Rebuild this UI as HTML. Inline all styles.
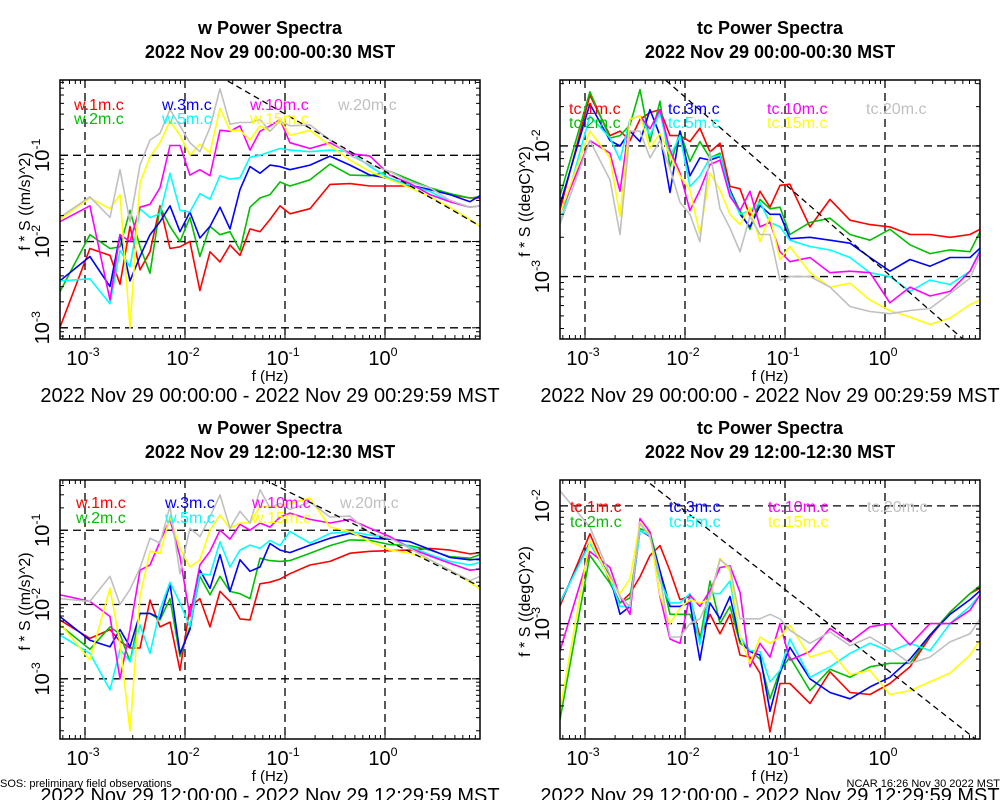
<!DOCTYPE html>
<html><head><meta charset="utf-8">
<style>
html,body{margin:0;padding:0;background:#fff;}
svg{display:block;font-family:"Liberation Sans",Arial,sans-serif;}
</style></head>
<body>
<svg id="chart" width="1000" height="800" viewBox="0 0 1000 800" xmlns="http://www.w3.org/2000/svg"></svg>
<script>
// ---- shared frequency categories (Hz) ----
const freqs = [5.6e-4,1.12e-3,1.78e-3,2.24e-3,2.82e-3,3.55e-3,4.47e-3,5.62e-3,7.08e-3,8.91e-3,1.12e-2,1.41e-2,1.78e-2,2.24e-2,2.82e-2,3.55e-2,4.47e-2,5.62e-2,7.08e-2,8.91e-2,0.112,0.178,0.282,0.447,0.708,1.12,1.78,2.82,4.47,7.08,8.91];
const xTickLabels = ["-3","-2","-1","0"];
const xTickValues = [1e-3,1e-2,1e-1,1];

// ---- panel 1: w, 00:00-00:30 ----
const w1a = [1.0e-3,8.3e-3,6.9e-3,3.2e-3,1.5e-2,4.7e-3,7.6e-3,2.6e-2,8.3e-3,8.7e-3,1.0e-2,2.7e-3,7.6e-3,5.8e-3,9.1e-3,6.9e-3,1.4e-2,1.3e-2,1.8e-2,2.6e-2,2.1e-2,2.4e-2,4.6e-2,4.7e-2,4.4e-2,4.4e-2,4.4e-2,4.0e-2,3.5e-2,3.2e-2,3.2e-2];
const w2a = [2.6e-3,1.2e-2,8.3e-3,8.7e-3,2.3e-2,8.7e-3,4.3e-3,2.5e-2,1.5e-2,1.0e-2,1.9e-2,6.7e-3,1.5e-2,1.2e-2,1.3e-2,7.9e-3,2.5e-2,3.2e-2,3.5e-2,4.9e-2,4.4e-2,5.2e-2,7.9e-2,5.9e-2,5.8e-2,6.5e-2,5.2e-2,4.2e-2,3.6e-2,3.2e-2,3.3e-2];
const w3a = [3.5e-3,6.7e-3,3.0e-3,1.2e-2,3.5e-3,6.7e-3,1.2e-2,1.7e-2,2.6e-2,1.3e-2,2.2e-2,1.1e-2,1.5e-2,2.5e-2,1.4e-2,4.0e-2,7.4e-2,6.2e-2,7.7e-2,7.4e-2,6.8e-2,7.7e-2,9.8e-2,7.7e-2,5.9e-2,5.4e-2,4.5e-2,4.0e-2,3.5e-2,2.9e-2,3.4e-2];
const w5a = [3.5e-3,3.7e-3,1.9e-3,7.9e-3,5.1e-3,2.4e-2,1.9e-2,2.1e-2,6.2e-2,2.3e-2,2.2e-2,3.6e-2,3.1e-2,5.8e-2,5.3e-2,5.5e-2,9.5e-2,1.0e-1,1.1e-1,1.2e-1,1.15e-1,1.1e-1,1.15e-1,1.1e-1,7.4e-2,5.4e-2,4.5e-2,3.8e-2,2.9e-2,2.5e-2,2.6e-2];
const w10a = [1.7e-2,2.6e-2,2.1e-3,1.2e-2,1.0e-2,2.5e-2,2.7e-2,4.2e-2,1.3e-1,1.3e-1,5.9e-2,6.8e-2,5.8e-2,1.95e-1,1.9e-1,2.2e-1,1.15e-1,1.9e-1,2.2e-1,2.6e-1,1.4e-1,1.2e-1,1.4e-1,1.05e-1,9.8e-2,5.9e-2,4.7e-2,3.5e-2,2.9e-2,2.5e-2,2.6e-2];
const w15a = [1.8e-2,3.2e-2,2.4e-2,3.5e-2,1.0e-3,4.8e-2,9.6e-2,1.4e-1,2.5e-1,1.7e-1,1.0e-1,1.35e-1,1.07e-1,3.5e-1,1.95e-1,1.95e-1,1.5e-1,2.2e-1,1.9e-1,2.6e-1,1.7e-1,1.95e-1,1.3e-1,8.8e-2,6.5e-2,5.2e-2,4.2e-2,3.3e-2,2.5e-2,1.8e-2,1.5e-2];
const w20a = [1.9e-2,3.3e-2,1.9e-2,6.8e-2,1.7e-2,7.7e-2,1.5e-1,1.8e-1,3.4e-1,2.2e-1,1.4e-1,1.1e-1,2.1e-1,5.9e-1,2.3e-1,2.4e-1,2.4e-1,2.6e-1,1.9e-1,2.5e-1,2.2e-1,2.25e-1,1.5e-1,1.0e-1,7.7e-2,6.5e-2,4.9e-2,4.2e-2,3.0e-2,2.5e-2,2.6e-2];

// ---- panel 2: tc, 00:00-00:30 ----
const t1a = [3.2e-3,2.45e-2,1.2e-2,1.3e-2,1.1e-2,1.6e-2,1.8e-2,1.9e-2,1.2e-2,1.2e-2,1.08e-2,1.37e-2,9.0e-3,1.05e-2,4.9e-3,4.7e-3,2.9e-3,4.5e-3,3.4e-3,5.0e-3,5.1e-3,2.4e-3,3.9e-3,2.7e-3,2.5e-3,2.4e-3,2.1e-3,2.1e-3,2.0e-3,2.1e-3,2.3e-3];
const t2a = [4.1e-3,2.6e-2,1.15e-2,1.2e-2,1.45e-2,2.7e-2,1.08e-2,2.2e-2,6.9e-3,1.3e-2,7.6e-3,1.08e-2,8.1e-3,8.8e-3,4.6e-3,3.2e-3,2.3e-3,3.9e-3,3.3e-3,3.4e-3,2.1e-3,2.6e-3,2.8e-3,2.1e-3,1.9e-3,2.3e-3,1.75e-3,1.5e-3,1.6e-3,1.55e-3,2.2e-3];
const t3a = [3.5e-3,2.1e-2,1.1e-2,1.0e-2,1.3e-2,1.08e-2,1.9e-2,1.2e-2,4.4e-3,1.3e-2,5.9e-3,8.1e-3,7.8e-3,8.3e-3,4.6e-3,3.0e-3,2.4e-3,3.5e-3,3.0e-3,3.0e-3,1.95e-3,2.0e-3,1.9e-3,1.8e-3,1.4e-3,1.1e-3,1.35e-3,1.2e-3,1.4e-3,1.4e-3,1.65e-3];
const t5a = [2.5e-3,1.7e-2,1.15e-2,7.8e-3,1.6e-2,1.7e-2,1.2e-2,1.8e-2,8.3e-3,1.2e-2,4.9e-3,5.9e-3,8.1e-3,8.5e-3,4.4e-3,3.0e-3,3.2e-3,3.7e-3,2.6e-3,2.4e-3,1.9e-3,1.7e-3,1.6e-3,1.4e-3,1.07e-3,1.0e-3,7.7e-4,9.4e-4,8.7e-4,1.1e-3,1.6e-3];
const t10a = [3.0e-3,1.1e-2,8.8e-3,4.5e-3,1.6e-2,1.7e-2,1.35e-2,1.9e-2,9.3e-3,6.2e-3,3.2e-3,4.6e-3,7.2e-3,7.8e-3,4.1e-3,3.2e-3,4.5e-3,2.4e-3,2.6e-3,1.55e-3,1.3e-3,1.4e-3,1.07e-3,1.1e-3,1.07e-3,6.3e-4,8.3e-4,7.1e-4,7.7e-4,1.1e-3,1.55e-3];
const t15a = [3.0e-3,1.3e-2,8.1e-3,2.9e-3,1.6e-2,1.7e-2,9.6e-3,1.25e-2,8.5e-3,5.9e-3,4.6e-3,2.1e-3,6.2e-3,4.6e-3,3.0e-3,2.5e-3,3.4e-3,1.85e-3,2.9e-3,1.35e-3,1.7e-3,1.07e-3,8.3e-4,8.9e-4,6.6e-4,5.5e-4,4.9e-4,4.3e-4,4.8e-4,6.1e-4,6.6e-4];
const t20a = [2.5e-3,1.1e-2,5.5e-3,2.1e-3,1.3e-2,1.3e-2,8.1e-3,1.1e-2,6.7e-3,3.7e-3,3.0e-3,1.85e-3,9.0e-3,3.3e-3,2.35e-3,1.55e-3,2.9e-3,2.1e-3,2.1e-3,9.4e-4,1.0e-3,1.0e-3,8.3e-4,5.9e-4,5.4e-4,5.2e-4,5.5e-4,5.7e-4,7.4e-4,9.7e-4,1.45e-3];

// ---- panel 3: w, 12:00-12:30 ----
const w1b = [6.2e-3,3.5e-3,4.6e-3,3.2e-3,2.6e-3,2.6e-3,1.15e-2,5.0e-3,5.8e-3,1.3e-3,9.3e-3,1.2e-2,5.0e-3,1.5e-2,1.1e-2,6.4e-3,6.2e-3,1.9e-2,2.0e-2,2.2e-2,2.6e-2,3.4e-2,3.8e-2,4.9e-2,5.2e-2,5.3e-2,5.4e-2,5.7e-2,5.4e-2,4.8e-2,5.0e-2];
const w2b = [5.3e-3,2.5e-3,5.0e-3,4.0e-3,1.7e-3,7.6e-3,7.6e-3,6.2e-3,1.2e-2,2.0e-3,5.0e-3,2.4e-2,1.35e-2,2.4e-2,1.5e-2,1.4e-2,1.2e-2,4.2e-2,3.9e-2,3.8e-2,3.9e-2,4.9e-2,6.2e-2,7.4e-2,7.3e-2,6.4e-2,6.2e-2,5.4e-2,4.4e-2,4.2e-2,4.7e-2];
const w3b = [6.9e-3,3.3e-3,2.7e-3,4.6e-3,2.7e-3,7.6e-3,7.6e-3,6.5e-3,1.9e-2,2.2e-3,4.6e-3,2.9e-2,1.65e-2,4.7e-2,1.5e-2,4.0e-2,2.8e-2,3.2e-2,6.6e-2,5.4e-2,5.0e-2,6.3e-2,7.8e-2,9.1e-2,7.8e-2,7.6e-2,7.0e-2,5.5e-2,4.3e-2,4.0e-2,4.1e-2];
const w5b = [3.9e-3,2.2e-3,7.1e-4,2.5e-3,1.7e-3,5.3e-3,2.2e-3,8.5e-3,2.0e-2,1.05e-2,5.0e-3,2.6e-2,2.5e-2,7.0e-2,3.2e-2,5.4e-2,6.3e-2,5.7e-2,7.3e-2,6.2e-2,9.6e-2,6.7e-2,9.1e-2,9.6e-2,8.6e-2,7.8e-2,6.0e-2,4.7e-2,3.8e-2,3.4e-2,3.7e-2];
const w10b = [1.35e-2,1.1e-2,6.9e-3,1.0e-3,4.6e-3,2.9e-2,3.4e-2,7.0e-2,1.4e-1,4.4e-2,6.9e-3,3.4e-2,5.2e-2,1.0e-1,7.6e-2,1.2e-1,1.0e-1,1.25e-1,1.1e-1,1.5e-1,1.7e-1,1.4e-1,1.25e-1,1.4e-1,1.06e-1,8.2e-2,5.7e-2,4.5e-2,3.6e-2,2.9e-2,3.0e-2];
const w15b = [5.6e-3,1.8e-3,1.65e-2,3.0e-3,2.0e-4,1.3e-2,5.2e-2,4.9e-2,1.5e-1,5.7e-2,3.2e-2,4.0e-2,1.0e-1,1.6e-1,1.06e-1,1.25e-1,1.25e-1,2.1e-1,2.1e-1,2.1e-1,2.3e-1,2.7e-1,1.1e-1,9.6e-2,7.0e-2,5.4e-2,4.9e-2,4.0e-2,2.9e-2,2.0e-2,1.6e-2];
const w20b = [1.2e-2,1.1e-2,2.4e-2,1.0e-2,1.6e-2,3.1e-2,7.8e-2,6.7e-2,2.1e-1,2.6e-2,1.06e-1,8.2e-2,1.5e-1,3.0e-1,1.06e-1,1.8e-1,1.25e-1,3.5e-1,2.0e-1,2.3e-1,1.9e-1,2.4e-1,1.5e-1,1.55e-1,9.1e-2,7.8e-2,5.7e-2,4.0e-2,2.9e-2,2.1e-2,2.4e-2];

// ---- panel 4: tc, 12:00-12:30 ----
const t1b = [1.4e-3,5.8e-3,2.3e-3,1.5e-3,1.8e-3,2.5e-3,3.8e-3,4.6e-3,2.8e-3,1.6e-3,1.7e-3,7.7e-4,1.2e-3,8.2e-4,1.2e-3,5.4e-4,5.2e-4,3.8e-4,1.2e-4,3.1e-4,3.1e-4,2.1e-4,3.9e-4,2.6e-4,2.5e-4,3.1e-4,4.3e-4,7.7e-4,1.25e-3,1.8e-3,2.0e-3];
const t2b = [1.5e-4,3.8e-3,2.2e-3,1.5e-3,1.65e-3,6.4e-3,6.0e-3,2.8e-3,1.2e-3,1.2e-3,1.2e-3,7.2e-4,2.3e-3,1.0e-3,1.4e-3,6.8e-4,5.9e-4,5.0e-4,2.3e-4,4.0e-4,5.2e-4,2.7e-4,4.1e-4,3.5e-4,4.3e-4,4.6e-4,4.6e-4,8.0e-4,1.25e-3,1.8e-3,2.1e-3];
const t3b = [1.5e-3,4.9e-3,2.5e-3,1.2e-3,1.4e-3,6.2e-3,5.5e-3,2.8e-3,1.4e-3,1.4e-3,1.5e-3,4.9e-4,1.5e-3,1.1e-3,1.7e-3,7.2e-4,5.8e-4,5.4e-4,1.8e-4,3.8e-4,6.3e-4,3.4e-4,2.6e-4,2.3e-4,2.9e-4,3.5e-4,5.0e-4,8.0e-4,1.2e-3,1.6e-3,1.9e-3];
const t5b = [1.5e-3,4.8e-3,2.4e-3,1.4e-3,1.4e-3,6.2e-3,5.6e-3,2.3e-3,1.5e-3,1.5e-3,1.8e-3,6.6e-4,1.8e-3,1.8e-3,2.3e-3,7.7e-4,5.9e-4,5.8e-4,3.2e-4,4.0e-4,7.4e-4,3.5e-4,4.3e-4,5.6e-4,6.8e-4,5.8e-4,6.8e-4,5.9e-4,1.0e-3,1.4e-3,1.75e-3];
const t10b = [5.8e-4,4.1e-3,3.0e-3,1.7e-3,1.2e-3,7.8e-3,6.0e-3,1.7e-3,7.4e-4,6.8e-4,1.75e-3,1.4e-3,1.9e-3,3.0e-3,3.1e-3,1.85e-3,4.3e-4,6.8e-4,5.2e-4,1.0e-3,4.9e-4,5.8e-4,9.1e-4,7.0e-4,9.4e-4,1.0e-3,6.6e-4,1.0e-3,1.0e-3,1.3e-3,1.75e-3];
const t15b = [1.8e-4,5.1e-3,2.4e-3,1.8e-3,2.4e-3,7.3e-3,5.6e-3,1.75e-3,1.0e-3,1.35e-3,1.6e-3,1.5e-3,1.6e-3,3.6e-3,2.8e-3,7.7e-4,4.6e-4,7.7e-4,6.8e-4,7.7e-4,9.7e-4,5.2e-4,5.9e-4,3.7e-4,4.0e-4,2.5e-4,2.7e-4,3.2e-4,3.8e-4,5.4e-4,7.2e-4];
const t20b = [1.35e-2,6.6e-3,2.6e-3,1.7e-3,1.4e-3,7.1e-3,5.5e-3,2.5e-3,7.7e-4,7.7e-4,1.0e-3,1.1e-3,1.7e-3,3.5e-3,3.0e-3,1.1e-3,1.1e-3,1.1e-3,1.2e-3,1.1e-3,8.8e-4,6.8e-4,8.5e-4,6.5e-4,7.7e-4,6.1e-4,4.6e-4,5.2e-4,7.0e-4,8.2e-4,1.1e-3];

// reference -2/3 slope line values at f = 1 Hz, per panel
const refAt1Hz = [0.065, 1.1e-3, 0.075, 4.2e-4];
const refSlope = -2/3;

const heights = ["1m","2m","3m","5m","10m","15m","20m"];
const colors = ["#ff0000","#00c000","#0000ff","#00ffff","#ff00ff","#ffff00","#c0c0c0"];

const NS = "http://www.w3.org/2000/svg";
const svg = document.getElementById("chart");
function mk(tag, attrs, parent) {
  const e = document.createElementNS(NS, tag);
  for (const k in attrs) e.setAttribute(k, attrs[k]);
  (parent || svg).appendChild(e);
  return e;
}
function pow10Text(parent, x, y, exp, size, anchor, rotate) {
  const t = mk("text", {x: x, y: y, "font-size": size, "text-anchor": anchor || "middle", fill: "#000"}, parent);
  if (rotate) t.setAttribute("transform", "rotate(-90 " + x + " " + y + ")");
  t.appendChild(document.createTextNode("10"));
  const s = document.createElementNS(NS, "tspan");
  s.setAttribute("dy", -size * 0.45);
  s.setAttribute("font-size", size * 0.62);
  s.textContent = exp;
  t.appendChild(s);
  return t;
}

const panels = [
  {x0:60, x1:480, y0:80, y1:339, yTop:-0.127, yBot:-3.13, yt:["-1","-2","-3"], ytv:[1e-1,1e-2,1e-3], series:[w1a,w2a,w3a,w5a,w10a,w15a,w20a], v:"w",
   title:"w Power Spectra", sub:"2022 Nov 29 00:00-00:30 MST", date:"2022 Nov 29 00:00:00 - 2022 Nov 29 00:29:59 MST", ytitle:"f * S ((m/s)^2)", leg:[[74,162,250,338],[110,124]]},
  {x0:560, x1:980, y0:80, y1:339, yTop:-1.495, yBot:-3.478, yt:["-2","-3"], ytv:[1e-2,1e-3], series:[t1a,t2a,t3a,t5a,t10a,t15a,t20a], v:"tc",
   title:"tc Power Spectra", sub:"2022 Nov 29 00:00-00:30 MST", date:"2022 Nov 29 00:00:00 - 2022 Nov 29 00:29:59 MST", ytitle:"f * S ((degC)^2)", leg:[[569,668,767,866],[114,128]]},
  {x0:60, x1:480, y0:480, y1:739, yTop:-0.324, yBot:-3.81, yt:["-1","-2","-3"], ytv:[1e-1,1e-2,1e-3], series:[w1b,w2b,w3b,w5b,w10b,w15b,w20b], v:"w",
   title:"w Power Spectra", sub:"2022 Nov 29 12:00-12:30 MST", date:"2022 Nov 29 12:00:00 - 2022 Nov 29 12:29:59 MST", ytitle:"f * S ((m/s)^2)", leg:[[76,165,252,340],[508,523]]},
  {x0:560, x1:980, y0:480, y1:739, yTop:-1.78, yBot:-3.98, yt:["-2","-3"], ytv:[1e-2,1e-3], series:[t1b,t2b,t3b,t5b,t10b,t15b,t20b], v:"tc",
   title:"tc Power Spectra", sub:"2022 Nov 29 12:00-12:30 MST", date:"2022 Nov 29 12:00:00 - 2022 Nov 29 12:29:59 MST", ytitle:"f * S ((degC)^2)", leg:[[570,669,768,867],[512,527]]}
];
const XMIN = -3.25, XMAX = 0.95;

panels.forEach((p, pi) => {
  const g = mk("g", {});
  
  
  const xs = f => p.x0 + (Math.log10(f) - XMIN) / (XMAX - XMIN) * (p.x1 - p.x0);
  const ys = v => p.y0 + (p.yTop - Math.log10(v)) / (p.yTop - p.yBot) * (p.y1 - p.y0);
  const cx = (p.x0 + p.x1) / 2;

  const tt = mk("text", {x: cx, y: p.y0 - 46, "font-size": 18, "font-weight": "bold", "text-anchor": "middle"}, g);
  tt.textContent = p.title;
  
  
  const st = mk("text", {x: cx, y: p.y0 - 22, "font-size": 18, "font-weight": "bold", "text-anchor": "middle"}, g);
  st.textContent = p.sub;
  
  

  const cid = "clip" + pi;
  const cp = mk("clipPath", {id: cid}, g);
  mk("rect", {x: p.x0, y: p.y0, width: p.x1 - p.x0, height: p.y1 - p.y0}, cp);

  xTickValues.forEach(v => {
    const l = mk("line", {x1: xs(v), x2: xs(v), y1: p.y0, y2: p.y1, stroke: "#000", "stroke-width": 1.3, "stroke-dasharray": "8,5"}, g);
    
    
  });
  p.ytv.forEach(v => {
    const l = mk("line", {x1: p.x0, x2: p.x1, y1: ys(v), y2: ys(v), stroke: "#000", "stroke-width": 1.3, "stroke-dasharray": "8,5"}, g);
    
    
  });

  const sg = mk("g", {"clip-path": "url(#" + cid + ")"}, g);
  p.series.forEach((arr, si) => {
    const pts = arr.map((v, i) => xs(freqs[i]).toFixed(1) + "," + ys(v).toFixed(1)).join(" ");
    const pl = mk("polyline", {points: pts, fill: "none", stroke: colors[si], "stroke-width": 1.6, "stroke-linejoin": "round"}, sg);
    
    
  });
  const fa = 1e-4, fb = 20;
  const rl = mk("line", {x1: xs(fa), y1: ys(refAt1Hz[pi] * Math.pow(fa, refSlope)), x2: xs(fb), y2: ys(refAt1Hz[pi] * Math.pow(fb, refSlope)), stroke: "#000", "stroke-width": 1.3, "stroke-dasharray": "6,4"}, sg);
  
  

  heights.forEach((h, si) => {
    const col = Math.floor(si / 2), row = si % 2;
    const t = mk("text", {x: p.leg[0][col], y: p.leg[1][row], "font-size": 16, fill: colors[si]}, g);
    t.textContent = p.v + "." + h + ".c";
    
    
  });

  const fr = mk("rect", {x: p.x0, y: p.y0, width: p.x1 - p.x0, height: p.y1 - p.y0, fill: "none", stroke: "#000", "stroke-width": 1.5}, g);
  
  

  for (let d = -4; d <= 1; d++) {
    for (let m = 1; m <= 9; m++) {
      const f = m * Math.pow(10, d);
      const L = Math.log10(f);
      if (L < XMIN || L > XMAX) continue;
      const len = m === 1 ? 8 : 4;
      const x = xs(f);
      mk("line", {x1: x, x2: x, y1: p.y1, y2: p.y1 - len, stroke: "#000", "stroke-width": 1}, g);
      mk("line", {x1: x, x2: x, y1: p.y0, y2: p.y0 + len, stroke: "#000", "stroke-width": 1}, g);
    }
  }
  for (let d = -5; d <= 0; d++) {
    for (let m = 1; m <= 9; m++) {
      const v = m * Math.pow(10, d);
      const L = Math.log10(v);
      if (L > p.yTop || L < p.yBot) continue;
      const len = m === 1 ? 8 : 4;
      const y = ys(v);
      mk("line", {x1: p.x0, x2: p.x0 + len, y1: y, y2: y, stroke: "#000", "stroke-width": 1}, g);
      mk("line", {x1: p.x1, x2: p.x1 - len, y1: y, y2: y, stroke: "#000", "stroke-width": 1}, g);
    }
  }
  xTickValues.forEach((v, i) => {
    const t = pow10Text(g, xs(v) - 2, p.y1 + 26, xTickLabels[i], 20, "middle", false);
    
    
  });
  p.ytv.forEach((v, i) => {
    const t = pow10Text(g, p.x0 - 11, ys(v), p.yt[i], 20, "middle", true);
    
    
  });
  const xt = mk("text", {x: cx, y: p.y1 + 42, "font-size": 15, "text-anchor": "middle"}, g);
  xt.textContent = "f (Hz)";
  
  
  const ytx = p.x0 - 30, yty = (p.y0 + p.y1) / 2 - 8;
  const yt = mk("text", {x: ytx, y: yty, "font-size": 16, "text-anchor": "middle", transform: "rotate(-90 " + ytx + " " + yty + ")"}, g);
  yt.textContent = p.ytitle;
  
  
  const dt = mk("text", {x: cx, y: p.y1 + 63, "font-size": 20, "text-anchor": "middle"}, g);
  dt.textContent = p.date;
  
  
});

const fl = mk("text", {x: 0, y: 787, "font-size": 11, "text-anchor": "start"});
fl.textContent = "SOS: preliminary field observations";


const fr2 = mk("text", {x: 1000, y: 787, "font-size": 11, "text-anchor": "end"});
fr2.textContent = "NCAR 16:26 Nov 30 2022 MST";


</script>
</body></html>
